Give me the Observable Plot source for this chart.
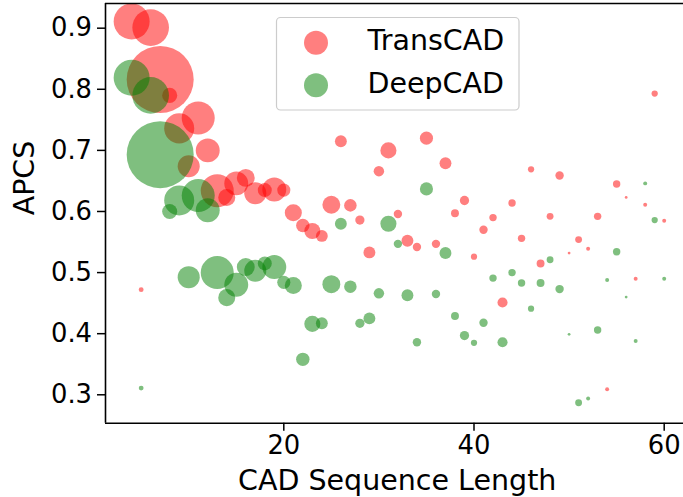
<!DOCTYPE html>
<html><head><meta charset="utf-8">
<script src="https://cdn.jsdelivr.net/npm/d3@7"></script>
<script src="https://cdn.jsdelivr.net/npm/@observablehq/plot@0.6"></script>
<style>body{margin:0;background:#fff}</style>
</head><body><div id="chart"></div>
<script>
// CAD sequence lengths (x) and number of samples per length (bubble size)
const lengths = [4,5,6,7,8,9,10,11,12,13,14,15,16,17,18,19,20,21,22,23,24,25,26,27,28,29,30,31,32,33,34,35,36,37,38,39,40,41,42,43,44,45,46,47,48,49,50,51,52,53,54,55,56,57,58,59,60];
const counts  = [165,3,171,572,29,115,62,139,73,139,37,73,41,62,25,73,22,37,23,33,18,41,18,20,11,18,14,33,9,18,9,22,9,18,8,11,5,9,7,13,7,7,5,8,6,9,1,6,2,7,2,7,1,2,2,5,2];
const transcadAPCS = [0.911,0.472,0.901,0.816,0.790,0.736,0.674,0.753,0.700,0.634,0.623,0.646,0.655,0.630,0.635,0.636,0.635,0.598,0.577,0.568,0.560,0.611,0.715,0.610,0.586,0.533,0.666,0.700,0.596,0.552,0.542,0.720,0.547,0.679,0.597,0.618,0.526,0.570,0.590,0.451,0.614,0.556,0.669,0.515,0.592,0.659,0.532,0.554,0.539,0.592,0.309,0.645,0.623,0.490,0.611,0.793,0.585];
const deepcadAPCS  = [0.819,0.311,0.790,0.693,0.600,0.618,0.4925,0.626,0.602,0.500,0.459,0.480,0.509,0.503,0.515,0.509,0.484,0.479,0.358,0.416,0.417,0.481,0.580,0.477,0.417,0.425,0.466,0.580,0.547,0.463,0.386,0.637,0.465,0.532,0.429,0.397,0.385,0.418,0.491,0.386,0.500,0.483,0.441,0.483,0.521,0.473,0.399,0.287,0.294,0.406,0.488,0.534,0.460,0.388,0.646,0.586,0.490];
const seriesNames = ["TransCAD","DeepCAD"];
const seriesColors = ["#ff0000","#008000"];
const xTicks = [20,40,60];
const yTicks = [0.3,0.4,0.5,0.6,0.7,0.8,0.9];
const xDomain = [1.25, 62.03];
const yDomain = [0.2535, 0.9404];

const seriesValues = [transcadAPCS, deepcadAPCS];
const rows = [];
seriesNames.forEach((s, si) => {
  lengths.forEach((L, i) => rows.push({series: s, length: L, count: counts[i], apcs: seriesValues[si][i]}));
});

const FONT = "DejaVu Sans, sans-serif";
const plot = Plot.plot({
  width: 683, height: 497,
  marginLeft: 105, marginRight: 0, marginTop: 3, marginBottom: 74.3,
  style: {fontFamily: FONT, fontSize: "25.8px", color: "#000", background: "#fff"},
  x: {domain: xDomain},
  y: {domain: yDomain},
  r: {type: "sqrt", domain: [0, 572], range: [0, 33.5]},
  color: {domain: seriesNames, range: seriesColors},
  marks: [
    Plot.dot(rows, {x: "length", y: "apcs", r: "count", fill: "series", fillOpacity: 0.5, stroke: null, sort: null, clip: true}),
    Plot.axisX({ticks: xTicks, tickSize: 8, tickPadding: 4.2, label: null, fontSize: 25.8, strokeWidth: 1.5, stroke: "#000"}),
    Plot.axisY({ticks: yTicks, tickSize: 8, tickPadding: 5.5, tickFormat: ".1f", label: null, fontSize: 25.8, strokeWidth: 1.5, stroke: "#000"}),
    Plot.ruleX([xDomain[0]], {stroke: "#000", strokeWidth: 1.6}),
    Plot.ruleY(yDomain, {stroke: "#000", strokeWidth: 1.6}),
    Plot.text(["CAD Sequence Length"], {frameAnchor: "bottom", lineAnchor: "top", dy: 46.5, dx: 2.7, fontSize: 28.5, fill: "#000"}),
    Plot.text(["APCS"], {frameAnchor: "left", rotate: -90, dx: -80.4, dy: 2, fontSize: 28.5, fill: "#000"})
  ]
});
document.getElementById("chart").appendChild(plot);

// legend (upper centre, inside the axes)
const svg = d3.select(plot);
const lg = svg.append("g").attr("font-family", FONT).attr("font-size", 28.5).attr("text-anchor", "start");
lg.append("rect").attr("x", 276.5).attr("y", 17.5).attr("width", 242.5).attr("height", 92.5)
  .attr("rx", 4).attr("fill", "#fff").attr("fill-opacity", 0.8).attr("stroke", "#cccccc").attr("stroke-width", 1.2);
seriesNames.forEach((s, i) => {
  lg.append("circle").attr("cx", 316).attr("cy", 42.7 + i * 42.6).attr("r", 12)
    .attr("fill", seriesColors[i]).attr("fill-opacity", 0.5);
  lg.append("text").attr("x", 367.5).attr("y", 50 + i * 42.7).attr("fill", "#000").attr("text-anchor", "start").text(s);
});
</script></body></html>
